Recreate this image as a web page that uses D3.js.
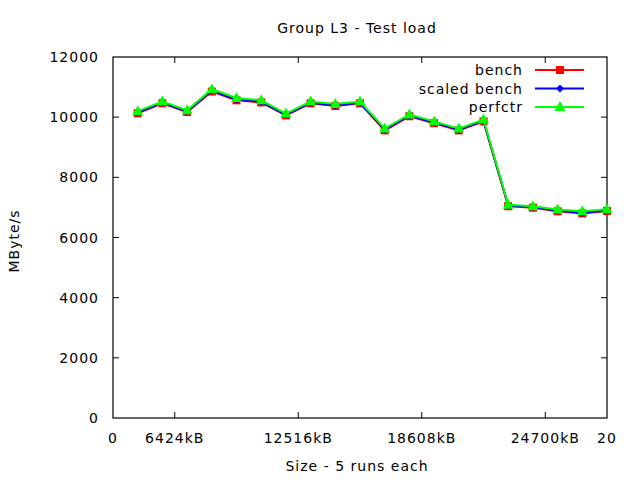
<!DOCTYPE html>
<html>
<head>
<meta charset="utf-8">
<script src="https://cdn.jsdelivr.net/npm/d3@7"></script>
<style>
  body { margin: 0; background: #fff; }
  svg text { font-family: "DejaVu Sans", sans-serif; fill: #000; letter-spacing: 1px; }
</style>
</head>
<body>
<svg id="chart" width="640" height="480"></svg>
<script>
// run index 1..20, values in MByte/s
let runs = d3.range(1, 21);
let bench = [10130, 10460, 10170, 10850, 10560, 10490, 10060, 10460, 10370, 10460,
             9560, 10030, 9800, 9560, 9860, 7040, 6990, 6870, 6800, 6880];
let scaledBench = [10150, 10480, 10190, 10880, 10590, 10510, 10080, 10480, 10390, 10480,
                   9580, 10050, 9820, 9580, 9880, 7060, 7010, 6890, 6820, 6900];
let perfctr = [10200, 10520, 10230, 10930, 10640, 10560, 10120, 10520, 10440, 10520,
               9620, 10090, 9860, 9620, 9920, 7090, 7040, 6930, 6870, 6940];

let xTickPos = [0, 2.5, 7.5, 12.5, 17.5, 20];
let xTickLabels = ['0', '6424kB', '12516kB', '18608kB', '24700kB', '20'];
let yTicks = [0, 2000, 4000, 6000, 8000, 10000, 12000];

let svg = d3.select('#chart');
let plotL = 113, plotR = 607, plotT = 57, plotB = 418;

let x = d3.scaleLinear().domain([0, 20]).range([plotL, plotR]);
let y = d3.scaleLinear().domain([0, 12000]).range([plotB, plotT]);

// frame
svg.append('rect')
  .attr('x', plotL).attr('y', plotT)
  .attr('width', plotR - plotL).attr('height', plotB - plotT)
  .attr('fill', 'none').attr('stroke', '#000').attr('stroke-width', 1.2);

// y ticks (inward, mirrored)
yTicks.forEach((t) => {
  let yy = y(t);
  if (t > 0 && t < 12000) {
    svg.append('line').attr('x1', plotL).attr('x2', plotL + 6).attr('y1', yy).attr('y2', yy)
      .attr('stroke', '#000').attr('stroke-width', 1);
    svg.append('line').attr('x1', plotR).attr('x2', plotR - 6).attr('y1', yy).attr('y2', yy)
      .attr('stroke', '#000').attr('stroke-width', 1);
  }
  svg.append('text')
    .attr('x', 99).attr('y', yy + 5)
    .attr('text-anchor', 'end')
    .attr('font-size', 14)
    .text(t);
});

// x ticks
xTickPos.forEach((p, i) => {
  let xx = x(p);
  if (p > 0 && p < 20) {
    svg.append('line').attr('x1', xx).attr('x2', xx).attr('y1', plotB).attr('y2', plotB - 6)
      .attr('stroke', '#000').attr('stroke-width', 1);
    svg.append('line').attr('x1', xx).attr('x2', xx).attr('y1', plotT).attr('y2', plotT + 6)
      .attr('stroke', '#000').attr('stroke-width', 1);
  }
  svg.append('text')
    .attr('x', xx).attr('y', 443)
    .attr('text-anchor', 'middle')
    .attr('font-size', 14)
    .text(xTickLabels[i]);
});

// titles
svg.append('text').attr('x', 357).attr('y', 33).attr('text-anchor', 'middle')
  .attr('font-size', 14).text('Group L3 - Test load');
svg.append('text').attr('x', 357).attr('y', 471).attr('text-anchor', 'middle')
  .attr('font-size', 14).text('Size - 5 runs each');
svg.append('text').attr('transform', 'translate(19, 241) rotate(-90)')
  .attr('text-anchor', 'middle').attr('font-size', 14).text('MByte/s');

let line = d3.line().x((d) => x(d[0])).y((d) => y(d[1]));

let series = [
  { name: 'bench', values: bench, color: '#ff0000', shape: 'square' },
  { name: 'scaled bench', values: scaledBench, color: '#0000ff', shape: 'diamond' },
  { name: 'perfctr', values: perfctr, color: '#00ff00', shape: 'triangle' }
];

let drawMarker = (g, shape, cx, cy, color) => {
  if (shape == 'square') {
    g.append('rect').attr('x', cx - 4).attr('y', cy - 4).attr('width', 8).attr('height', 8)
      .attr('fill', color);
  } else if (shape == 'diamond') {
    g.append('path').attr('d', `M${cx},${cy - 4}L${cx + 4},${cy}L${cx},${cy + 4}L${cx - 4},${cy}Z`)
      .attr('fill', color);
  } else {
    g.append('path').attr('d', `M${cx},${cy - 6}L${cx + 5.5},${cy + 4}L${cx - 5.5},${cy + 4}Z`)
      .attr('fill', color);
  }
}

series.forEach((s, i) => {
  let pts = runs.map((r, j) => [r, s.values[j]]);
  let g = svg.append('g');
  g.append('path')
    .attr('d', line(pts))
    .attr('fill', 'none')
    .attr('stroke', s.color)
    .attr('stroke-width', 2);
  pts.forEach((p) => drawMarker(g, s.shape, x(p[0]), y(p[1]), s.color));

  // legend
  let ly = 70 + i * 18.5;
  svg.append('text').attr('x', 523).attr('y', ly + 5).attr('text-anchor', 'end')
    .attr('font-size', 14).text(s.name);
  svg.append('line').attr('x1', 535).attr('x2', 584).attr('y1', ly).attr('y2', ly)
    .attr('stroke', s.color).attr('stroke-width', 2);
  drawMarker(svg, s.shape, 560, ly, s.color);
});
</script>
</body>
</html>
